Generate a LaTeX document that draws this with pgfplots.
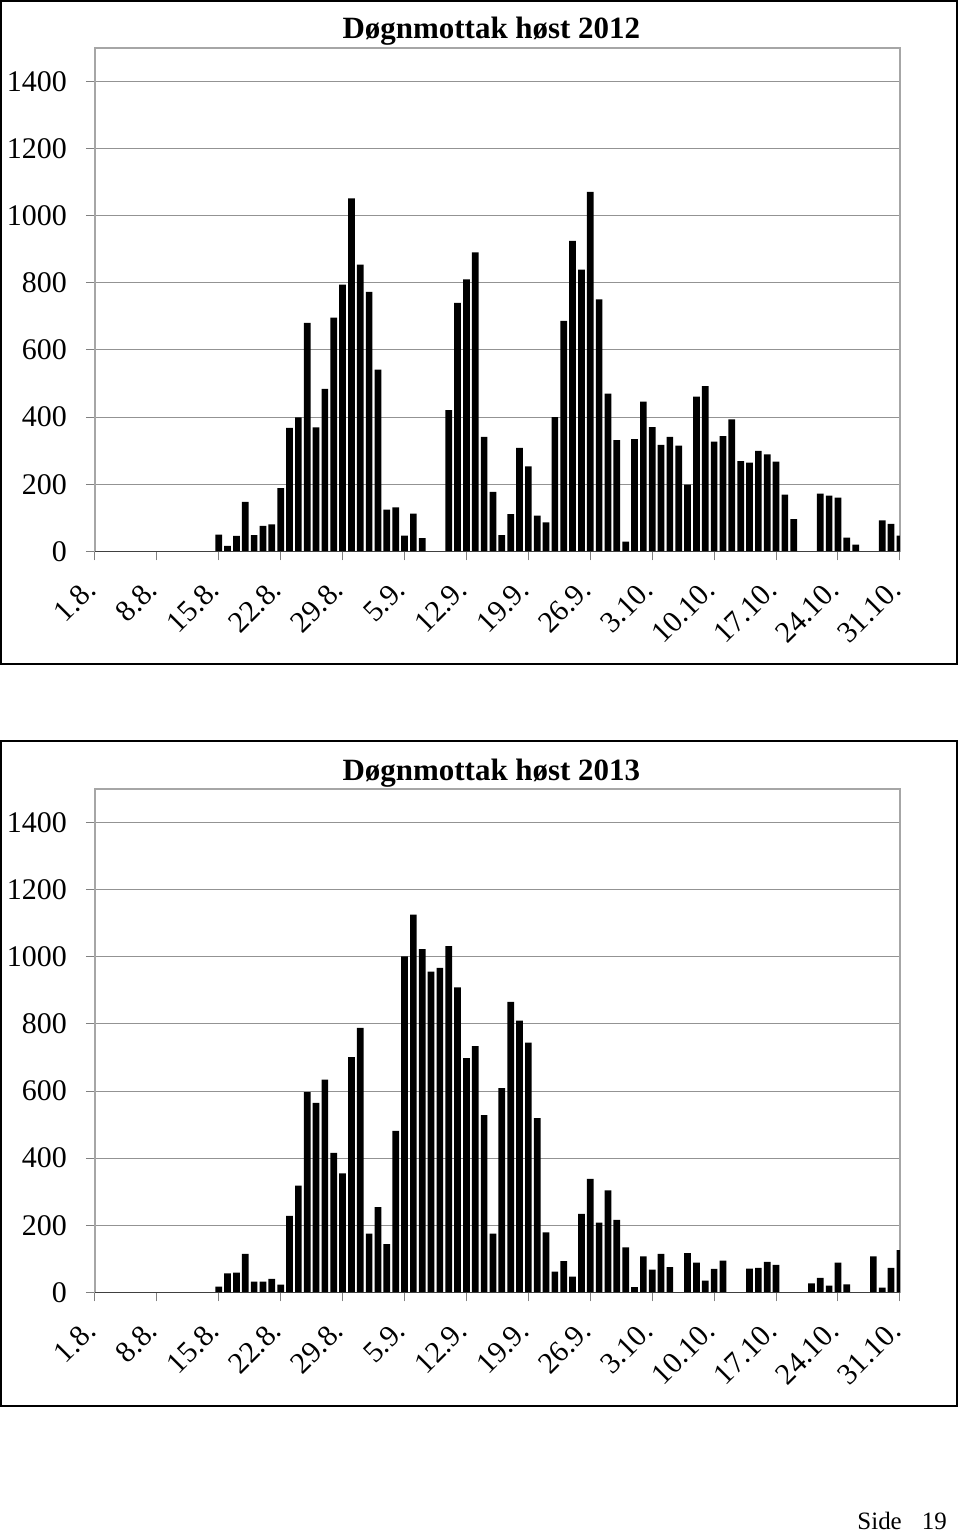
\documentclass[border=0pt]{standalone}
\usepackage{fontspec}
\setmainfont{Liberation Serif}
\usepackage{pgfplots}
\pgfplotsset{compat=1.18}

\pgfplotsset{
  mottak/.style={
    scale only axis, width=403pt, height=252pt,
    xmin=0, xmax=91, ymin=0, ymax=1500,
    xtick={0,7,...,91},
    xticklabels={1.8.,8.8.,15.8.,22.8.,29.8.,5.9.,12.9.,19.9.,26.9.,3.10.,10.10.,17.10.,24.10.,31.10.},
    ytick={0,200,...,1400},
    ymajorgrids, grid style={gray!85, line width=0.5pt},
    axis line style={gray!70, line width=0.7pt},
    tick style={gray, line width=0.5pt},
    tick align=outside, xtick pos=left, ytick pos=left, major tick length=4.5pt,
    ticklabel style={font=\fontsize{15}{18}\selectfont},
    /pgf/number format/assume math mode=true,
    /pgf/number format/1000 sep={},
    yticklabel style={xshift=-6pt},
    % shifts are in the rotated frame
    xticklabel style={rotate=45, anchor=east, xshift=-6.8pt, yshift=-7.2pt},
    ybar, bar width=3.35pt,
  }
}

\begin{document}
\begin{tikzpicture}
\path (0,0) rectangle (480pt,768pt);
\draw[line width=0.8pt] (0.5pt,435.5pt) rectangle (479.2pt,767.5pt);
\draw[line width=0.8pt] (0.5pt,64pt) rectangle (479.2pt,397pt);

% hoest 2012
\begin{axis}[mottak, at={(47.5pt,492pt)}, anchor=south west]
\addplot[fill=black, draw=none] coordinates {
(14,50) (15,16) (16,46) (17,147) (18,48) (19,76) (20,80) (21,188)
(22,368) (23,399) (24,681) (25,369) (26,484) (27,696) (28,795) (29,1052)
(30,854) (31,773) (32,541) (33,124) (34,131) (35,47) (36,112) (37,39)
(40,421) (41,740) (42,810) (43,891) (44,341) (45,177) (46,48) (47,111)
(48,308) (49,253) (50,106) (51,86) (52,400) (53,687) (54,925) (55,839)
(56,1071) (57,751) (58,470) (59,331) (60,29) (61,334) (62,446) (63,370)
(64,317) (65,341) (66,315) (67,199) (68,461) (69,492) (70,327) (71,343)
(72,393) (73,269) (74,264) (75,299) (76,289) (77,267) (78,169) (79,96)
(82,172) (83,166) (84,160) (85,41) (86,20) (89,92) (90,82) (91,47)
};
\draw[black!75, line width=0.7pt] (axis cs:0,0) -- (axis cs:91,0);
\end{axis}
\node[font=\bfseries\fontsize{15.5}{18}\selectfont] at (246pt,752.5pt) {Døgnmottak høst 2012};

% hoest 2013
\begin{axis}[mottak, at={(47.5pt,121pt)}, anchor=south west]
\addplot[fill=black, draw=none] coordinates {
(14,17) (15,57) (16,59) (17,115) (18,32) (19,32) (20,40) (21,23)
(22,228) (23,318) (24,597) (25,565) (26,634) (27,416) (28,355) (29,701)
(30,788) (31,175) (32,254) (33,144) (34,481) (35,1001) (36,1126) (37,1023)
(38,956) (39,967) (40,1032) (41,909) (42,698) (43,734) (44,528) (45,175)
(46,609) (47,866) (48,810) (49,744) (50,519) (51,179) (52,62) (53,93)
(54,47) (55,234) (56,338) (57,208) (58,304) (59,216) (60,134) (61,16)
(62,107) (63,68) (64,115) (65,75) (67,117) (68,89) (69,35) (70,70)
(71,95) (74,71) (75,73) (76,91) (77,82) (81,27) (82,43) (83,20)
(84,89) (85,24) (88,107) (89,14) (90,73) (91,126)
};
\draw[black!75, line width=0.7pt] (axis cs:0,0) -- (axis cs:91,0);
\end{axis}
\node[font=\bfseries\fontsize{15.5}{18}\selectfont] at (246pt,381pt) {Døgnmottak høst 2013};

\node[font=\fontsize{12.5}{15}\selectfont, anchor=base east] at (477.5pt,2.5pt) {Side\hspace{0.8em}19};
\end{tikzpicture}
\end{document}
